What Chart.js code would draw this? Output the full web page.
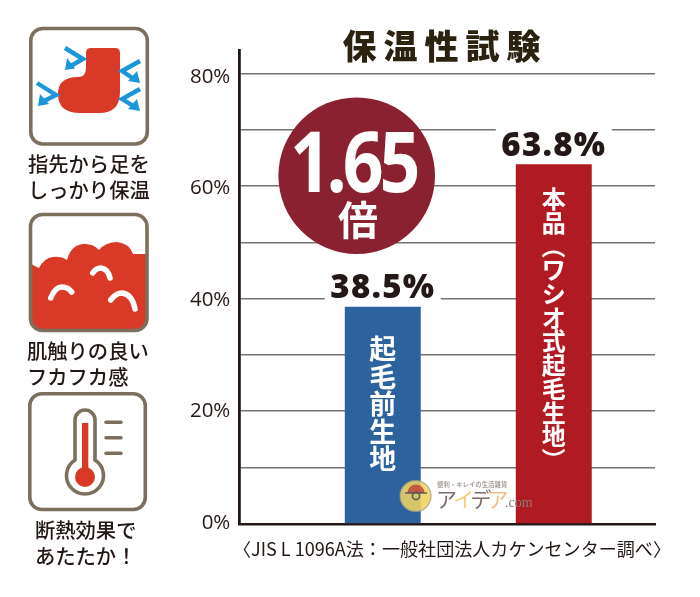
<!DOCTYPE html>
<html lang="ja">
<head>
<meta charset="utf-8">
<title>保温性試験</title>
<script src="https://cdn.jsdelivr.net/npm/chart.js@4"></script>
<style>
  body { margin: 0; background: #fff; }
  #wrap { position: relative; width: 700px; height: 597px; overflow: hidden; }
  canvas, svg { position: absolute; left: 0; top: 0; }
  .cap { position: absolute; font: 500 20.3px/26px "Noto Sans CJK JP", sans-serif; color: #231815; white-space: nowrap; }
</style>
</head>
<body>
<div id="wrap">
  <canvas id="chart" width="700" height="597"></canvas>
  <svg width="190" height="597" viewBox="0 0 190 597">
    <!-- sock -->
    <rect x="30.8" y="28.5" width="116.5" height="115.5" rx="12" fill="#fff" stroke="#7d6f5d" stroke-width="3.6"/>
    <path d="M86,53 Q86,48 91,48 L115,48 Q120,48 120,53 L120,92 Q120,113 99,113 L80,113 Q58,113 58,94 Q58,77 78,77 Q86,77 86,68 Z" fill="#d93a27"/>
    <g fill="none" stroke="#1a96d9" stroke-width="4.4">
      <path d="M65,48 L83,59 L69,67"/>
      <path d="M37,83 L56,95 L42,102"/>
      <path d="M140,61 L122,71 L134,79"/>
      <path d="M140,89 L122,99 L135,107"/>
    </g>
    <g fill="#1a96d9">
      <path d="M65,70 L75,68.5 L67,58 Z"/>
      <path d="M38,106 L49,104 L40,94 Z"/>
      <path d="M140,83 L128,81 L137,71 Z"/>
      <path d="M140,111 L128,109 L137,99 Z"/>
    </g>
    <!-- fluffy -->
    <clipPath id="box2"><rect x="30.5" y="214.5" width="116.5" height="116" rx="12"/></clipPath>
    <g clip-path="url(#box2)">
      <path d="M29,263 L39,268 Q44,258 53,257 Q61,256 67,260 Q71,245 83,244 Q93,243 99,250 Q106,242 117,242 Q129,243 133,254 L149,254 L149,333 L29,333 Z" fill="#d93a27"/>
    </g>
    <rect x="30.5" y="214.5" width="116.5" height="116" rx="12" fill="none" stroke="#7d6f5d" stroke-width="3.6"/>
    <g fill="none" stroke="#fff" stroke-width="5.5" stroke-linecap="round">
      <path d="M50.7,298 Q55,287 62,287 Q68,287 71.7,292"/>
      <path d="M92.7,273 Q96,268 101,268 Q108,269 110,278"/>
      <path d="M110.7,300 Q116,293 122,293 Q132,294 135,309"/>
    </g>
    <!-- thermometer -->
    <rect x="29.8" y="393.8" width="115.5" height="115.7" rx="12" fill="#fff" stroke="#7d6f5d" stroke-width="3.6"/>
    <path d="M75,456 L75,420 A10,10 0 0 1 95,420 L95,460 A18.5,18.5 0 1 1 75,460 Z" fill="#fff" stroke="#7d6f5d" stroke-width="3.6"/>
    <rect x="82" y="423" width="6.3" height="50" fill="#d93a27"/>
    <circle cx="85" cy="477" r="10" fill="#d93a27"/>
    <g stroke="#7d6f5d" stroke-width="3.4" stroke-linecap="round">
      <path d="M106,422.3 L121,422.3"/>
      <path d="M106,437.7 L121,437.7"/>
      <path d="M106,453.3 L121,453.3"/>
    </g>
  </svg>
  <div class="cap" style="left:28px;top:150px">指先から足を</div>
  <div class="cap" style="left:28px;top:176px">しっかり保温</div>
  <div class="cap" style="left:27px;top:337px">肌触りの良い</div>
  <div class="cap" style="left:27px;top:363px">フカフカ感</div>
  <div class="cap" style="left:35px;top:516px">断熱効果で</div>
  <div class="cap" style="left:35px;top:542px">あたたか！</div>
</div>
<script>
const categories = ['起毛前生地', '本品（ワシオ式起毛生地）'];
const values = [38.5, 63.8];
const valueLabels = ['38.5%', '63.8%'];
const barColors = ['#2c629e', '#b01a22'];
const gridValues = [0, 10, 20, 30, 40, 50, 60, 70, 80];
const tickValues = [0, 20, 40, 60, 80];
const titleText = '保温性試験';
const ratioText = '1.65';
const ratioUnit = '倍';
const noteText = '〈JIS L 1096A法：一般社団法人カケンセンター調べ〉';

const jp = '"Noto Sans CJK JP", sans-serif';

function drawVertical(ctx, text, x, y, pitch, size) {
  ctx.font = '700 ' + size + 'px ' + jp;
  ctx.fillStyle = '#fff';
  ctx.textAlign = 'center';
  ctx.textBaseline = 'middle';
  Array.from(text).forEach(function(ch, i) {
    const cy = y + i * pitch;
    if (ch === '（' || ch === '）') {
      ctx.save();
      ctx.translate(x, cy);
      ctx.rotate(Math.PI / 2);
      ctx.fillText(ch, 0, 0);
      ctx.restore();
    } else {
      ctx.fillText(ch, x, cy);
    }
  });
}

function drawWatermark(ctx) {
  ctx.save();
  ctx.fillStyle = 'rgba(238,212,96,0.88)';
  ctx.strokeStyle = 'rgba(150,150,140,0.6)';
  ctx.lineWidth = 1.5;
  ctx.beginPath();
  ctx.arc(415.5, 496, 15.5, 0, Math.PI * 2);
  ctx.fill();
  ctx.stroke();
  ctx.fillStyle = 'rgba(190,70,60,0.85)';
  ctx.beginPath();
  ctx.arc(416, 493, 8.5, Math.PI, 0);
  ctx.fill();
  ctx.strokeStyle = 'rgba(70,75,95,0.85)';
  ctx.lineWidth = 1.6;
  ctx.beginPath();
  ctx.arc(416, 496, 3.6, 0, Math.PI * 2);
  ctx.moveTo(405, 493);
  ctx.lineTo(427, 493);
  ctx.stroke();
  ctx.textAlign = 'left';
  ctx.textBaseline = 'middle';
  ctx.fillStyle = '#a8a09c';
  ctx.font = '700 6.4px ' + jp;
  ctx.fillText('便利・キレイの生活雑貨', 437, 485, 71);
  const kana = [['ア', '#7d6c6a'], ['イ', '#f2cd6a'], ['デ', '#7d6c6a'], ['ア', '#f4bd83']];
  ctx.font = '400 21px ' + jp;
  kana.forEach(function(k, i) {
    ctx.fillStyle = k[1];
    ctx.fillText(k[0], 436 + i * 17.2, 499);
  });
  ctx.fillStyle = '#8a7d7b';
  ctx.font = '14px "Liberation Serif", serif';
  ctx.fillText('.com', 505, 503, 29);
  ctx.restore();
}

const overlay = {
  id: 'overlay',
  afterDraw: function(chart) {
    const ctx = chart.ctx;
    const meta = chart.getDatasetMeta(0);
    ctx.save();

    // title
    ctx.fillStyle = '#2b2210';
    ctx.font = '900 34px ' + jp;
    ctx.textAlign = 'center';
    ctx.textBaseline = 'middle';
    ctx.letterSpacing = '7px';
    ctx.fillText(titleText, 445, 46);
    ctx.letterSpacing = '0px';

    // value labels sit on a white patch that cuts the grid line
    meta.data.forEach(function(bar, i) {
      ctx.fillStyle = '#fff';
      ctx.fillRect(bar.x - 58, bar.y - 40, 116, 37);
      ctx.fillStyle = '#231815';
      ctx.font = '800 33px "Open Sans", sans-serif';
      ctx.letterSpacing = '1.2px';
      ctx.textAlign = 'center';
      ctx.textBaseline = 'alphabetic';
      ctx.fillText(valueLabels[i], bar.x, bar.y - 9);
      ctx.letterSpacing = '0px';
    });

    drawVertical(ctx, categories[0], meta.data[0].x, meta.data[0].y + 42, 27.5, 27);
    drawVertical(ctx, categories[1], meta.data[1].x, meta.data[1].y + 34.5, 23.7, 24);

    // ratio badge
    ctx.fillStyle = '#8a2130';
    ctx.beginPath();
    ctx.arc(356.7, 175.7, 78.3, 0, Math.PI * 2);
    ctx.fill();
    ctx.fillStyle = '#fff';
    ctx.textAlign = 'center';
    ctx.textBaseline = 'alphabetic';
    ctx.font = '700 84px "Open Sans", sans-serif';
    ctx.letterSpacing = '-5px';
    ctx.fillText(ratioText, 353, 191.5, 126);
    ctx.letterSpacing = '0px';
    ctx.font = '700 40px ' + jp;
    ctx.textBaseline = 'middle';
    ctx.fillText(ratioUnit, 358, 220);

    drawWatermark(ctx);

    // source note
    ctx.fillStyle = '#231815';
    ctx.font = '400 18.2px ' + jp;
    ctx.textAlign = 'left';
    ctx.textBaseline = 'middle';
    ctx.fillText(noteText, 233, 549, 438);
    ctx.restore();
  }
};

new Chart(document.getElementById('chart').getContext('2d'), {
  type: 'bar',
  data: {
    datasets: [{
      data: values.map(function(v, i) { return { x: i + 1, y: v }; }),
      backgroundColor: barColors,
      barThickness: 75.3
    }]
  },
  options: {
    responsive: false,
    animation: false,
    layout: { padding: { left: 0, right: 45, top: 50, bottom: 73.2 } },
    plugins: { legend: { display: false }, title: { display: false }, tooltip: { enabled: false } },
    scales: {
      x: {
        type: 'linear',
        offset: false,
        min: 0.161,
        max: 2.592,
        z: 1,
        grid: { display: false, drawTicks: false },
        border: { color: '#231815', width: 2.6 },
        ticks: { display: false },
        afterFit: function(scale) { scale.height = 0; }
      },
      y: {
        min: 0,
        max: 84.17,
        grid: {
          drawTicks: false,
          color: function(c) { return c.tick.value === 0 ? 'rgba(0,0,0,0)' : '#77736f'; },
          lineWidth: 1.6
        },
        border: { color: '#231815', width: 2.8 },
        ticks: { display: false },
        afterBuildTicks: function(scale) {
          scale.ticks = gridValues.map(function(v) { return { value: v }; });
        },
        afterFit: function(scale) { scale.width = 0; }
      },
      // the printed labels do not line up exactly with the grid, so they get their own axis
      yLabels: {
        position: 'left',
        min: -0.2,
        max: 84.85,
        grid: { display: false, drawTicks: false },
        border: { display: false },
        ticks: {
          padding: 9,
          color: '#231815',
          font: { family: '"Open Sans", sans-serif', size: 20.5 },
          callback: function(v) { return v + '%'; }
        },
        afterBuildTicks: function(scale) {
          scale.ticks = tickValues.map(function(v) { return { value: v }; });
        },
        afterFit: function(scale) { scale.width = 239.3; }
      }
    }
  },
  plugins: [overlay]
});
</script>
</body>
</html>
